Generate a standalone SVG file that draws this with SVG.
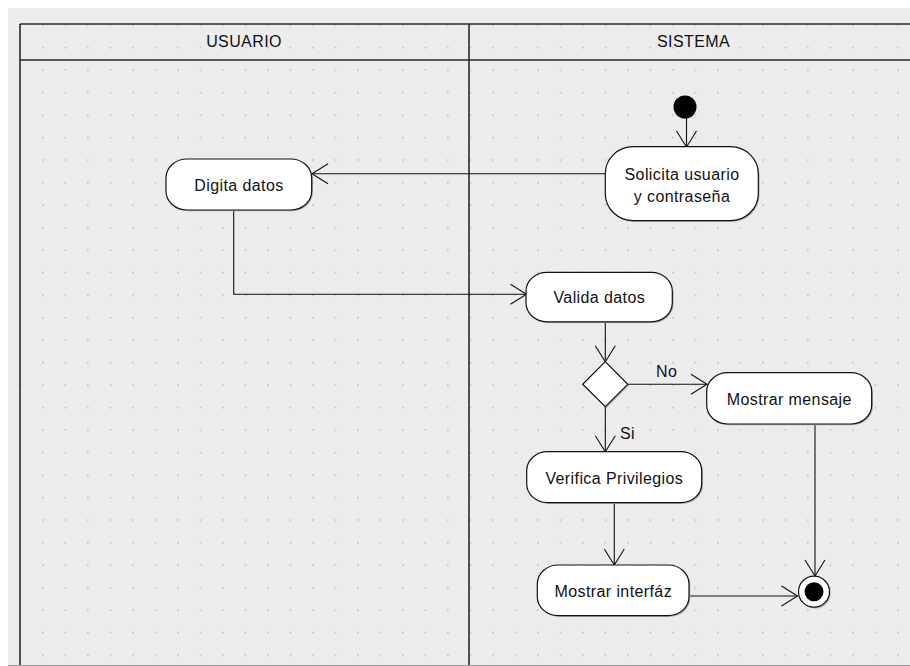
<svg xmlns="http://www.w3.org/2000/svg" width="910" height="666" viewBox="0 0 910 666">
<defs>
<pattern id="grid" x="19.6" y="24.3" width="22.5" height="22.5" patternUnits="userSpaceOnUse"><rect width="1.6" height="1.6" fill="#bcbcbc"/></pattern>
<marker id="arr" markerUnits="userSpaceOnUse" markerWidth="20" markerHeight="24" refX="16" refY="10" orient="auto" overflow="visible"><path d="M0,0 L16,10 L0,20" fill="none" stroke="#111" stroke-width="1.1"/></marker>
</defs>
<style>
.lane{stroke:#2a2a2a;stroke-width:1.6;fill:none}
.node{fill:#fff;stroke:#111;stroke-width:1.2}
.shadow{fill:#b0b0b0}
.txt{font-family:"Liberation Sans",Arial,sans-serif;font-size:16px;letter-spacing:0.4px;fill:#111;text-anchor:middle}
.lbl{font-family:"Liberation Sans",Arial,sans-serif;font-size:16px;letter-spacing:0.4px;fill:#111}
.conn{fill:none;stroke:#111;stroke-width:1.1;marker-end:url(#arr)}
</style>
<rect width="910" height="666" fill="#ffffff"/>
<rect x="8" y="8" width="902" height="658" fill="#ececec"/>
<rect x="8" y="8" width="902" height="658" fill="url(#grid)"/>
<line x1="8" y1="665.5" x2="910" y2="665.5" stroke="#9a9a9a" stroke-width="1"/>

<g id="lanes">
<line class="lane" x1="20" y1="24" x2="910" y2="24"/>
<line class="lane" x1="20" y1="60" x2="910" y2="60"/>
<line class="lane" x1="20" y1="24" x2="20" y2="665"/>
<line class="lane" x1="469" y1="24" x2="469" y2="665"/>
<text class="txt" x="244" y="46.5">USUARIO</text>
<text class="txt" x="693.5" y="46.5">SISTEMA</text>
</g>

<g id="connectors">
<path class="conn" d="M686.5,118 L686.5,147"/>
<path class="conn" d="M605,173.7 L312,173.7"/>
<path class="conn" d="M233.7,210 L233.7,294.3 L526.5,294.3"/>
<path class="conn" d="M605.3,322 L605.3,361.7"/>
<path class="conn" d="M627.7,384.3 L707,384.3"/>
<path class="conn" d="M605.3,406.7 L605.3,451.7"/>
<path class="conn" d="M614.3,503 L614.3,565"/>
<path class="conn" d="M689,596 L797.5,596"/>
<path class="conn" d="M815,424 L815,576"/>
<text class="lbl" x="656" y="377.3">No</text>
<text class="lbl" x="620" y="439">Si</text>
</g>

<g id="inicio">
<circle cx="685" cy="107" r="11.5" fill="#000"/>
</g>

<g id="solicita">
<rect class="shadow" x="606.6" y="148" width="153" height="74" rx="28" ry="27"/>
<rect class="node" x="605.3" y="146.7" width="153" height="74" rx="28" ry="27"/>
<text class="txt" x="682" y="180">Solicita usuario</text>
<text class="txt" x="682" y="201.7">y contraseña</text>
</g>

<g id="digita">
<rect class="shadow" x="167.3" y="160.3" width="145.7" height="51" rx="21" ry="19"/>
<rect class="node" x="166" y="159" width="145.7" height="51" rx="21" ry="19"/>
<text class="txt" x="239" y="190.5">Digita datos</text>
</g>

<g id="valida">
<rect class="shadow" x="527.3" y="273.6" width="146.3" height="49.5" rx="21" ry="19"/>
<rect class="node" x="526" y="272.3" width="146.3" height="49.5" rx="21" ry="19"/>
<text class="txt" x="599.3" y="303">Valida datos</text>
</g>

<g id="decision">
<path class="shadow" d="M606.6,363 L629,385.6 L606.6,408 L584,385.6 Z"/>
<path class="node" d="M605.3,361.7 L627.7,384.3 L605.3,406.7 L582.7,384.3 Z"/>
</g>

<g id="mensaje">
<rect class="shadow" x="708" y="374" width="165" height="51.3" rx="21" ry="19"/>
<rect class="node" x="706.7" y="372.7" width="165" height="51.3" rx="21" ry="19"/>
<text class="txt" x="789.3" y="405">Mostrar mensaje</text>
</g>

<g id="verifica">
<rect class="shadow" x="528" y="453" width="175" height="51" rx="21" ry="19"/>
<rect class="node" x="526.7" y="451.7" width="175" height="51" rx="21" ry="19"/>
<text class="txt" x="614.3" y="484">Verifica Privilegios</text>
</g>

<g id="interfaz">
<rect class="shadow" x="538.6" y="566.3" width="151.7" height="50.7" rx="21" ry="19"/>
<rect class="node" x="537.3" y="565" width="151.7" height="50.7" rx="21" ry="19"/>
<text class="txt" x="613.3" y="596.5">Mostrar interfáz</text>
</g>

<g id="fin">
<circle cx="815.3" cy="593" r="15.5" fill="#b0b0b0"/>
<circle cx="814" cy="591.7" r="15.5" fill="#fff" stroke="#111" stroke-width="1.2"/>
<circle cx="814" cy="591.7" r="9.5" fill="#000"/>
</g>
</svg>
